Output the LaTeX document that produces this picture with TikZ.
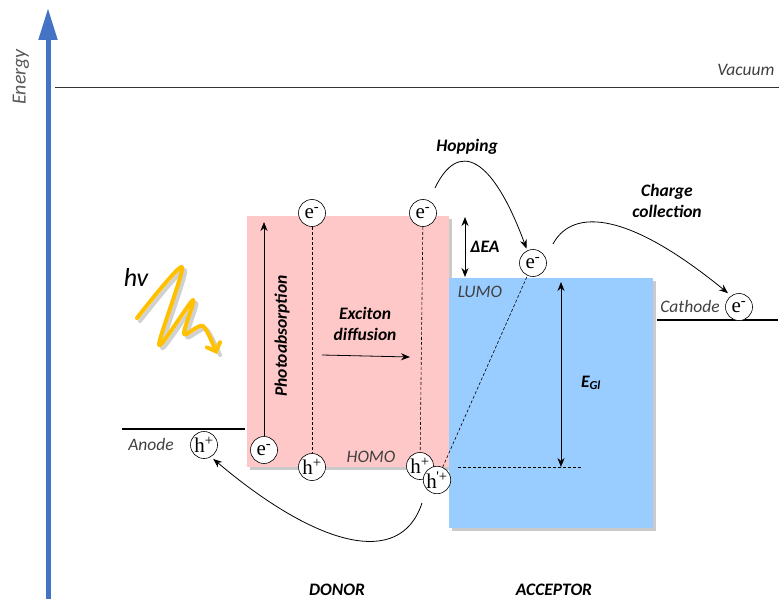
\documentclass[tikz,border=0pt]{standalone}
\usepackage{fontspec}
\setmainfont{Carlito}
\newfontfamily\chargefont{Liberation Serif}
\usetikzlibrary{arrows.meta,shadows}
\definecolor{axisblue}{HTML}{4472C4}
\definecolor{donorfill}{HTML}{FFC8C8}
\definecolor{acceptorfill}{HTML}{99CCFF}
\definecolor{photon}{HTML}{FFC000}
\definecolor{softtext}{HTML}{404040}
\begin{document}
\begin{tikzpicture}[x=1pt,y=-1pt,
  lbl/.style={font=\bfseries\itshape\fontsize{17.5}{21}\selectfont, align=center},
  soft/.style={font=\itshape\fontsize{17.5}{19}\selectfont, text=softtext},
  charge/.style={circle, draw, line width=0.6pt, fill=white, minimum size=27pt, inner sep=0pt,
                 font=\chargefont\fontsize{21}{21}\selectfont},
  arr/.style={-{Stealth[length=9pt,width=7pt]}, line width=0.8pt},
  dbl/.style={{Stealth[length=9pt,width=7pt]}-{Stealth[length=9pt,width=7pt]}, line width=0.8pt},
  dline/.style={dashed, line width=0.6pt, dash pattern=on 3pt off 2pt},
  boxshadow/.style={drop shadow={shadow xshift=3pt, shadow yshift=-3pt, opacity=0.35, fill=black!60}},
]
\useasboundingbox (0,0) rectangle (779,599);

% energy axis
\draw[line width=5pt, axisblue, -{Triangle[length=32pt,width=18pt]}] (48,599) -- (48,8);
\node[rotate=90, font=\itshape\fontsize{20}{22}\selectfont, text=black!65] (energy) at (21,77) {Energy};

% vacuum level
\draw[line width=0.8pt, black!80] (55,87) -- (779,87);
\node[soft, anchor=east] (vac) at (778,70) {Vacuum};

% donor and acceptor levels
\fill[donorfill, boxshadow] (247,216) rectangle (449,467);
\fill[acceptorfill, boxshadow] (449,278) rectangle (653,528);

% electrodes
\draw[line width=1.1pt] (122,429) -- (245,429);
\node[soft] (anode) at (151,444) {Anode};
\draw[line width=1.1pt] (657,320) -- (778,320);
\node[soft] (cathode) at (690,306) {Cathode};

% level labels
\node[soft] (homo) at (371,457) {HOMO};
\node[soft] (lumo) at (480,292) {LUMO};
\node[lbl] (dea) at (485,247) {ΔEA};
\node[lbl] (egl) at (591,383) {E\textsubscript{Gl}};

% charges
\newcommand\elec{e\textsuperscript{-}}
\newcommand\hole{h\textsuperscript{+}}
\node[charge] (eph) at (264,450) {\elec};
\node[charge] (e1) at (312,213) {\elec};
\node[charge] (e2) at (423,213) {\elec};
\node[charge] (eA) at (533,263) {\elec};
\node[charge] (eC) at (739,307) {\elec};
\node[charge] (h1) at (312,467) {\hole};
\node[charge] (ha) at (204,445) {\hole};
\node[charge] (h2) at (420,466) {\hole};

% interface dashed lines
\draw[dline] (e1) -- (h1);
\draw[dline] (e2) -- (h2);
\coordinate (gapL) at (458,467);
\coordinate (gapR) at (582,467);
\draw[dline] (gapL) -- (gapR);
\node[charge] (h3) at (437,480) {h\textsuperscript{\kern-0.5pt'+}};
\draw[dline] (h3) -- (eA);

% photoabsorption
\coordinate (phTop) at (264,222);
\draw[arr] (eph) -- (phTop);
\node[lbl, rotate=90] (photoabs) at (282,336) {Photoabsorption};

% exciton diffusion
\node[lbl] (exciton) at (365,324) {Exciton\\diffusion};
\coordinate (exS) at (322,355);
\coordinate (exE) at (410,357);
\draw[arr] (exS) -- (exE);

% energy offsets
\coordinate (deaTop) at (465,217);
\coordinate (deaBot) at (465,277);
\draw[dbl] (deaTop) -- (deaBot);
\coordinate (eglTop) at (561,282);
\coordinate (eglBot) at (561,467);
\draw[dbl] (eglTop) -- (eglBot);

% hopping
\node[lbl] (hop) at (467,147) {Hopping};
\coordinate (hopS) at (435,188);
\draw[arr, shorten >=2pt] (hopS) .. controls (458,140) and (492,155) .. (eA.115);

% charge collection
\node[lbl] (coll) at (667,201) {Charge\\collection};
\coordinate (colS) at (553,244);
\draw[arr, shorten >=4pt] (colS) .. controls (570,212) and (620,205) .. (eC.125);

% hole extraction to anode
\coordinate (holS) at (422,503);
\draw[arr, shorten >=3pt] (holS) .. controls (400,570) and (315,545) .. (ha.-60);

% incoming photon
\node[font=\itshape\fontsize{26}{26}\selectfont] (hv) at (136,277) {hv};
\draw[line width=4pt, black, opacity=0.18, line join=round, line cap=round, shift={(3,3)}]
  plot[smooth, tension=0.45] coordinates {(137,318) (182,267) (159,345) (193,300) (184,334) (203,326) (217,352)};
\draw[line width=4pt, photon, line join=round, line cap=round,
      -{Straight Barb[length=7pt,width=14pt,line cap=round]}]
  plot[smooth, tension=0.45] coordinates {(137,318) (182,267) (159,345) (193,300) (184,334) (203,326) (217,354)};

% material labels
\node[lbl, anchor=base, inner sep=0pt] (donor) at (337,595) {DONOR};
\node[lbl, anchor=base, inner sep=0pt] (acceptor) at (554,595) {ACCEPTOR};
\end{tikzpicture}
\end{document}
